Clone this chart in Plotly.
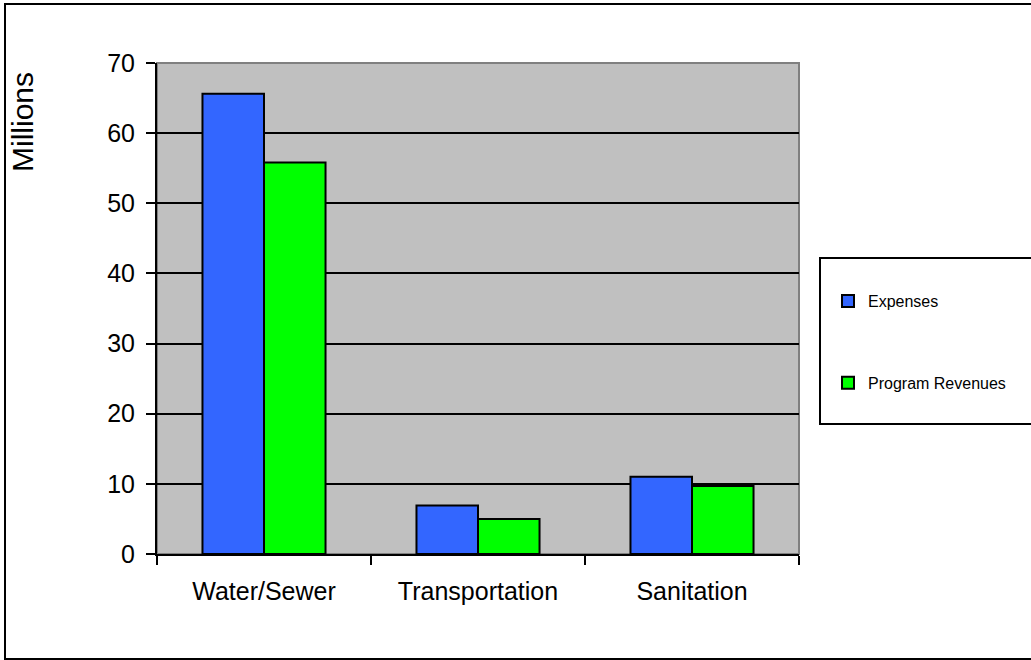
import plotly.graph_objects as go

categories = ["Water/Sewer", "Transportation", "Sanitation"]
expenses = [65.6, 6.9, 11.0]
program_revenues = [55.8, 5.0, 9.7]
y_ticks = [0, 10, 20, 30, 40, 50, 60, 70]

W, H = 1031, 660
L, R, T, B = 157, 799, 63, 554
pw, ph = R - L, B - T

def px(x):
    return (x - L) / pw

def py(y):
    return (B - y) / ph

fig = go.Figure()
fig.add_trace(go.Bar(
    x=categories, y=expenses, name="Expenses", legendgroup="a",
    marker=dict(color="#3366FF", line=dict(color="black", width=2)),
))
fig.add_trace(go.Bar(
    x=categories, y=program_revenues, name="Program Revenues", legendgroup="b",
    marker=dict(color="#00FF00", line=dict(color="black", width=2)),
))

font = "Liberation Sans, Arial, sans-serif"

fig.update_layout(
    width=W, height=H,
    margin=dict(l=L, r=W - R, t=T, b=H - B, pad=0),
    paper_bgcolor="white",
    plot_bgcolor="#C0C0C0",
    barmode="group",
    bargap=0.425,
    bargroupgap=0,
    font=dict(family=font, color="black"),
    showlegend=True,
    legend=dict(
        x=px(828), y=py(284), xanchor="left", yanchor="top",
        bgcolor="rgba(0,0,0,0)", borderwidth=0,
        font=dict(size=16, family=font, color="black"),
        tracegroupgap=58,
        itemwidth=30,
    ),
    xaxis=dict(
        type="category", tickson="boundaries", ticks="outside", ticklen=9,
        tickwidth=2, tickcolor="black", showline=True, linecolor="black", linewidth=2,
        showgrid=False, tickfont=dict(size=25, family=font, color="black"),
        ticklabelstandoff=14, range=[-0.5, 2.5],
    ),
    yaxis=dict(
        range=[0, 70], tickvals=y_ticks, ticks="outside", ticklen=9, tickwidth=2,
        tickcolor="black", showline=True, linecolor="black", linewidth=2,
        showgrid=True, gridcolor="black", gridwidth=1.5,
        tickfont=dict(size=25, family=font, color="black"),
        ticklabelstandoff=6, zeroline=False,
    ),
    shapes=[
        dict(type="rect", xref="paper", yref="paper", x0=0, x1=1, y0=0, y1=1,
             line=dict(color="#808080", width=2), layer="below"),
        dict(type="rect", xref="paper", yref="paper", x0=px(820), x1=px(1060),
             y0=py(424), y1=py(258), line=dict(color="black", width=2),
             fillcolor="white", layer="below"),
        dict(type="rect", xref="paper", yref="paper", x0=px(5), x1=px(1060),
             y0=py(659), y1=py(4), line=dict(color="black", width=2), layer="below"),
    ],
    annotations=[
        dict(text="Millions", xref="paper", yref="paper", x=px(22), y=py(122),
             showarrow=False, textangle=-90, font=dict(size=30, family=font, color="black"),
             xanchor="center", yanchor="middle"),
    ],
)

fig.write_html(
    "out.html",
    config={"displayModeBar": False},
    post_script="document.body.style.margin='0';document.body.style.overflow='hidden';",
)
